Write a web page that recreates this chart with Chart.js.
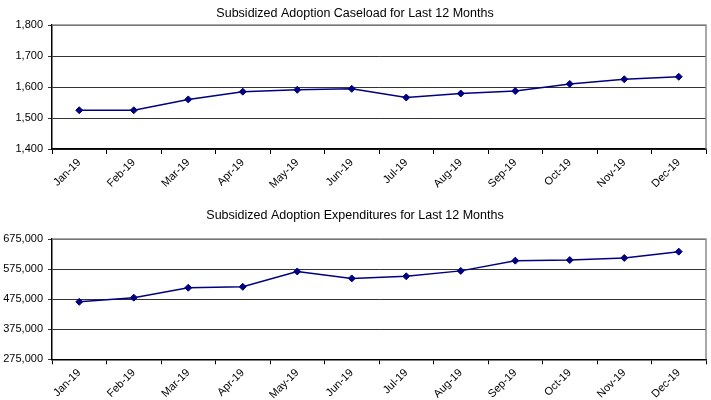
<!DOCTYPE html>
<html>
<head>
<meta charset="utf-8">
<script src="https://cdn.jsdelivr.net/npm/chart.js@4"></script>
<style>
    body { margin: 0; background: #fff; }
    .box { width: 711px; height: 200px; position: relative; }
</style>
</head>
<body>
<div class="box"><canvas id="caseloadChart" width="711" height="200"></canvas></div>
<div class="box"><canvas id="expenditureChart" width="711" height="200"></canvas></div>
<script>
// data
const months = ['Jan-19', 'Feb-19', 'Mar-19', 'Apr-19', 'May-19', 'Jun-19', 'Jul-19', 'Aug-19', 'Sep-19', 'Oct-19', 'Nov-19', 'Dec-19'];
const caseload = [1525, 1525, 1560, 1585, 1591, 1594, 1566, 1579, 1587, 1610, 1625, 1633];
const expenditures = [466000, 480000, 513000, 516000, 567000, 544000, 551000, 569000, 603000, 605000, 612000, 633000];
const caseloadTicks = [1400, 1500, 1600, 1700, 1800];
const expenditureTicks = [275000, 375000, 475000, 575000, 675000];

Chart.defaults.font.family = '"Liberation Sans", Arial, sans-serif';
Chart.defaults.font.size = 11;
Chart.defaults.color = '#000';

// gray frame on top and right of the plot
const framePlugin = {
    id: 'frame',
    beforeDatasetsDraw(chart) {
        const a = chart.chartArea;
        const ctx = chart.ctx;
        ctx.save();
        ctx.strokeStyle = '#8c8c8c';
        ctx.lineWidth = 1.5;
        ctx.beginPath();
        ctx.moveTo(a.left, a.top);
        ctx.lineTo(a.right, a.top);
        ctx.lineTo(a.right, a.bottom);
        ctx.stroke();
        ctx.restore();
    }
};

function makeChart(id, title, values, ticks, titlePad, xHeight) {
    const ctx = document.getElementById(id).getContext('2d');
    return new Chart(ctx, {
        type: 'line',
        data: {
            labels: months,
            datasets: [{
                data: values,
                borderColor: '#000080',
                backgroundColor: '#000080',
                borderWidth: 1.5,
                pointStyle: 'rectRot',
                pointRadius: 3.5,
                pointBorderWidth: 1,
                tension: 0
            }]
        },
        options: {
            responsive: false,
            animation: false,
            layout: {padding: {right: 1}},
            plugins: {
                legend: {display: false},
                tooltip: {enabled: false},
                title: {
                    display: true,
                    text: title,
                    color: '#000',
                    font: {size: 12.5, weight: 'normal'},
                    padding: titlePad
                }
            },
            scales: {
                x: {
                    offset: true,
                    grid: {
                        offset: true,
                        drawOnChartArea: false,
                        drawTicks: true,
                        tickLength: 5,
                        color: '#000'
                    },
                    border: {color: '#000', width: 1.5},
                    ticks: {minRotation: 45, maxRotation: 45, autoSkip: false, padding: 2},
                    afterFit: s => { s.height = xHeight; }
                },
                y: {
                    min: ticks[0],
                    max: ticks[ticks.length - 1],
                    afterBuildTicks: s => { s.ticks = ticks.map(v => ({value: v})); },
                    grid: {color: '#333', lineWidth: 1, tickLength: 4},
                    border: {color: '#000', width: 1.5},
                    ticks: {
                        padding: 5,
                        callback: v => v.toLocaleString('en-US')
                    },
                    afterFit: s => { s.width = 52; }
                }
            }
        },
        plugins: [framePlugin]
    });
}

makeChart('caseloadChart', 'Subsidized Adoption Caseload for Last 12 Months', caseload, caseloadTicks, {top: 6, bottom: 4}, 51);
makeChart('expenditureChart', 'Subsidized Adoption Expenditures for Last 12 Months', expenditures, expenditureTicks, {top: 8, bottom: 16}, 40.7);
</script>
</body>
</html>
